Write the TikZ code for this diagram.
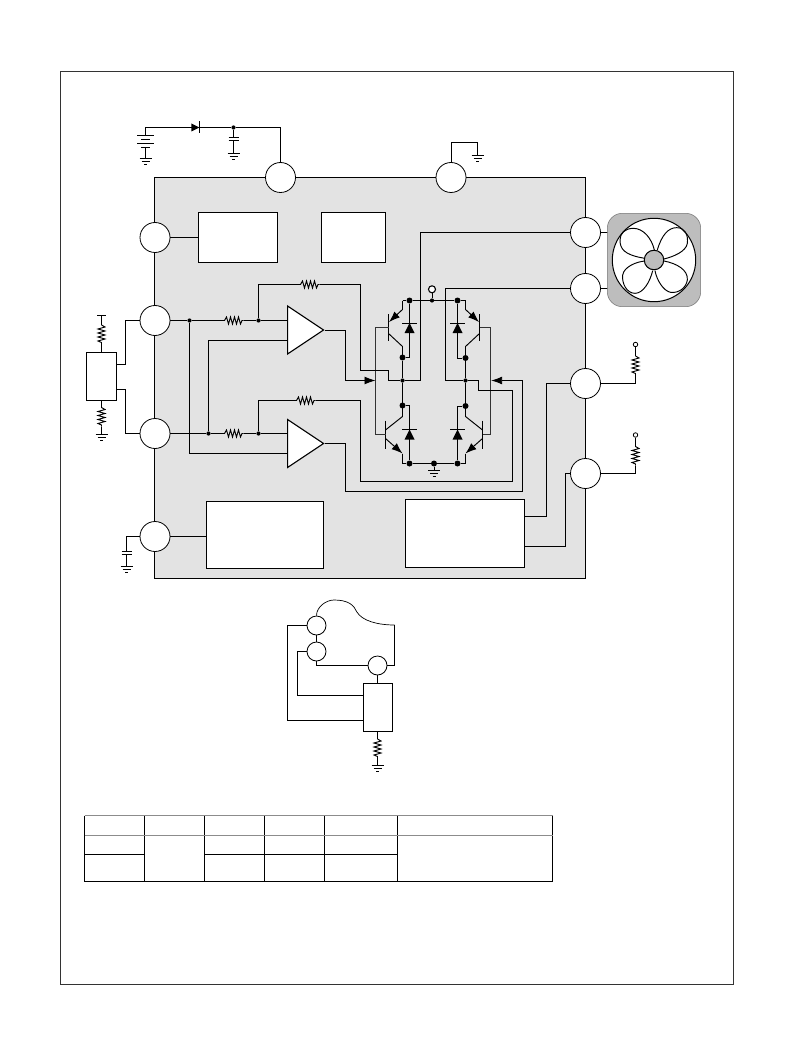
\documentclass[tikz,border=0pt]{standalone}
\usetikzlibrary{arrows.meta,shapes.geometric}
\definecolor{chipgray}{gray}{0.89}
\definecolor{fangray}{gray}{0.74}
\tikzset{
    wire/.style={line width=0.95pt},
    fatwire/.style={line width=1.7pt},
    pinc/.style={circle,draw,fill=white,line width=0.8pt,minimum size=30pt,inner sep=0pt},
    minipin/.style={pinc,minimum size=19pt},
    block/.style={rectangle,draw,fill=white,line width=0.95pt,inner sep=0pt},
    jdot/.style={circle,fill=black,minimum size=4.2pt,inner sep=0pt},
    bigdot/.style={circle,fill=black,minimum size=6pt,inner sep=0pt},
    amp/.style={isosceles triangle,isosceles triangle stretches,draw,fill=white,line width=1.1pt,
        minimum width=48pt,minimum height=36pt,inner sep=0pt,anchor=lower side},
    bigarrow/.style={-{Latex[length=11pt,width=8pt]},wire},
    emarrow/.style={-{Latex[length=11pt,width=8pt]},wire},
    pics/resis/.style={code={
        \coordinate (-w) at (-9.5,0);
        \coordinate (-e) at (9.5,0);
        \draw[wire] (-9.5,0) -- (-7.5,-3.5) -- (-5.5,3.5) -- (-3.5,-3.5) -- (-1.5,3.5)
            -- (.5,-3.5) -- (2.5,3.5) -- (4.5,-3.5) -- (6.5,3.5) -- (8,0) -- (9.5,0);
    }},
    pics/gnd/.style={code={
        \coordinate (-t) at (0,0);
        \draw[wire] (-6,0) -- (6,0) (-4,3) -- (4,3) (-1.5,6) -- (1.5,6);
    }},
    pics/capac/.style={code={
        \coordinate (-t) at (0,0);
        \coordinate (-b) at (0,3);
        \draw[wire] (-5,0) -- (5,0) (-5,3) -- (5,3);
    }},
    pics/dio/.style={code={
        \fill (0,0) -- (-5,10) -- (5,10) -- cycle;
        \draw[wire] (-7.5,0) -- (7.5,0);
    }},
    pics/qhigh/.style={code={
        \coordinate (-b) at (0,0);
        \coordinate (-c) at (14,-27);
        \coordinate (-e) at (14,30);
        \draw[line width=1.5pt] (0,-13.5) -- (0,13.5);
        \draw[wire] (14,-27) -- (14,-18);
        \draw[emarrow] (14,-18) -- (.5,-5.5);
        \draw[wire] (0,6) -- (14,19) -- (14,30);
    }},
    pics/qlow/.style={code={
        \coordinate (-b) at (0,0);
        \coordinate (-c) at (17,-29.5);
        \coordinate (-e) at (17,28.5);
        \draw[line width=1.5pt] (0,-14) -- (0,14);
        \draw[wire] (0,-4.5) -- (17,-18) -- (17,-29.5);
        \draw[emarrow] (0,4) -- (17,19);
        \draw[wire] (17,19) -- (17,28.5);
    }},
}
\begin{document}
\begin{tikzpicture}[x=1pt,y=-1pt]
    \useasboundingbox (0,0) rectangle (793,1056);
    \draw[line width=0.7pt,black!80] (60.5,71.5) rectangle (733,984);
    \draw[fill=chipgray,line width=1pt] (154.5,177.5) rectangle (585.5,578.5);

    % blocks in the chip
    \node[block,minimum width=79pt,minimum height=50pt] (reg) at (238,237.5) {};
    \node[block,minimum width=64pt,minimum height=50pt] (osc) at (353.5,237.5) {};
    \node[block,minimum width=117pt,minimum height=67pt] (prot) at (265,535) {};
    \node[block,minimum width=119pt,minimum height=68pt] (ctrl) at (465,533.5) {};

    % pins
    \coordinate (pvcc) at (280.5,177.5);
    \coordinate (pgnd) at (451,177.5);
    \coordinate (pvdd) at (155,237.5);
    \coordinate (pinp) at (155,320.5);
    \coordinate (pinn) at (155,433.5);
    \coordinate (pct) at (155,536.5);
    \coordinate (pouta) at (585.5,232.5);
    \coordinate (poutb) at (585.5,288.5);
    \coordinate (prd) at (585.5,383.5);
    \coordinate (pfg) at (585.5,473.5);

    % input side
    \node[jdot] (ja) at (189.5,320.5) {};
    \node[jdot] (jb) at (258.5,320.5) {};
    \node[jdot] (jc) at (208.5,433.5) {};
    \node[jdot] (jd) at (258.5,433.5) {};
    \pic (ra) at (234,320.5) {resis};
    \pic (rb) at (234,433.5) {resis};
    \pic (fa) at (310,284.5) {resis};
    \pic (fb) at (306,400.5) {resis};
    \node[amp] (ampa) at (287,330) {};
    \node[amp] (ampb) at (287,443.5) {};
    \draw[wire] (pinp) -- (ja) -- (ra-w) (ra-e) -- (jb) -- (ampa.lower side |- jb);
    \draw[wire] (pinn) -- (jc) -- (rb-w) (rb-e) -- (jd) -- (ampb.lower side |- jd);
    \draw[wire] (ja) -- (189.5,453.5) -- (ampb.lower side |- 0,453.5);
    \draw[wire] (jc) -- (208.5,340.5) -- (ampa.lower side |- 0,340.5);
    \draw[fatwire] (jb) |- (fa-w);
    \draw[fatwire] (jd) |- (fb-w);

    % bridge
    \node[bigdot] (ta) at (409.5,300.5) {};
    \node[jdot] (tb) at (432,300.5) {};
    \node[bigdot] (tc) at (457.5,300.5) {};
    \node[bigdot] (ma) at (402.5,357.5) {};
    \node[bigdot] (mb) at (465.5,358) {};
    \node[jdot] (ca) at (402.5,380.5) {};
    \node[jdot] (cb) at (465.5,380.5) {};
    \node[bigdot] (na) at (402.5,405.5) {};
    \node[bigdot] (nb) at (465.5,406) {};
    \node[bigdot] (ba) at (409.5,463.5) {};
    \node[bigdot] (bb) at (434,463.5) {};
    \node[bigdot] (bc) at (457.5,463.5) {};
    \node[circle,draw,fill=white,line width=1.1pt,minimum size=7pt,inner sep=0pt] (vm) at (432,289.3) {};
    \pic (qa) at (388.5,327.5) {qhigh};
    \pic[xscale=-1] (qb) at (479.5,327.5) {qhigh};
    \pic (qc) at (385.5,434.5) {qlow};
    \pic[xscale=-1] (qd) at (482.5,434.5) {qlow};
    \pic at (409.5,323) {dio};
    \pic at (457.5,323) {dio};
    \pic at (409.5,429.5) {dio};
    \pic at (457.5,429.5) {dio};
    \draw[wire] (vm) -- (tb);
    \draw[fatwire] (qa-c) -- (402.5,300.5) -- (ta) -- (tb) -- (tc) -- (465.5,300.5) -- (qb-c);
    \draw[fatwire] (qc-e) -- (402.5,463.5) -- (ba) -- (bb) -- (bc) -- (465.5,463.5) -- (qd-e);
    \draw[wire] (ta) |- (ma);
    \draw[wire] (tc) |- (mb);
    \draw[wire] (na) -| (ba);
    \draw[wire] (nb) -| (bc);
    \draw[fatwire] (qa-e) -- (ma) -- (ca) -- (na) -- (qc-c);
    \draw[fatwire] (qb-e) -- (mb) -- (cb) -- (nb) -- (qd-c);
    \draw[fatwire,black!80] (qa-b) -- (375.5,327.5) -- (375.5,434.5) -- (qc-b);
    \draw[fatwire,black!80] (qb-b) -- (490.5,327.5) -- (490.5,434.5) -- (qd-b);
    \pic (gb) at (434,470.5) {gnd};
    \draw[wire] (bb) -- (gb-t);

    % bridge drive and output wires
    \draw[wire] (fa-e) -- (360.5,284.5) -- (360.5,370.5) -- (388.5,370.5) -- (388.5,380.5) -- (ca)
        -- (420.5,380.5) -- (420.5,232.5) -- (pouta);
    \draw[wire] (fb-e) -- (360.5,400.5) -- (360.5,481.5) -- (512.5,481.5) -- (512.5,390.5)
        -- (478.5,390.5) -- (478.5,380.5) -- (cb) -- (445.5,380.5) -- (445.5,288.5) -- (poutb);
    \draw[bigarrow] (ampa.apex) -- (345.5,330) -- (345.5,380.5) -- (375.5,380.5);
    \draw[bigarrow] (ampb.apex) -- (345.5,443.5) -- (345.5,491.5) -- (522.5,491.5)
        -- (522.5,380.5) -- (491.2,380.5);
    \draw[wire] (ctrl.east |- 0,516.5) -- (546.5,516.5) -- (546.5,383.5) -- (prd);
    \draw[wire] (ctrl.east |- 0,546.5) -- (565.5,546.5) -- (565.5,473.5) -- (pfg);
    \draw[wire] (pvdd) -- (reg.west);
    \draw[wire] (pct) -- (prot.west |- pct);

    % supply, top left
    \node[jdot] (jv) at (233.5,127.5) {};
    \coordinate (batt) at (145.5,135.5);
    \pic[rotate=-90,scale=.8] (dv) at (199.3,127.5) {dio};
    \pic (cv) at (233.5,137.5) {capac};
    \pic (gv) at (233.5,153.5) {gnd};
    \pic (gs) at (145.5,158.5) {gnd};
    \draw[wire] (pvcc) -- (280.5,127.5) -- (jv) -- (batt |- jv) -- (batt);
    \draw[wire] (jv) -- (cv-t) (cv-b) -- (gv-t);
    \draw[wire] (137,135.5) -- (154,135.5) (141,139.5) -- (150,139.5)
        (137,143.5) -- (154,143.5) (141,147.5) -- (150,147.5) (145.5,147.5) -- (gs-t);

    % ground, top right
    \pic (gt) at (477.5,155.5) {gnd};
    \draw[wire] (pgnd) -- (451,142.5) -- (477.5,142.5) -- (gt-t);

    % hall element
    \node[block,minimum width=30pt,minimum height=48pt] (hall) at (101.5,376.5) {};
    \pic[rotate=-90] (rh) at (101.5,334.5) {resis};
    \pic[rotate=-90] (rl) at (101.5,417) {resis};
    \pic (gl) at (101.5,434.5) {gnd};
    \coordinate (htop) at (101.5,315.5);
    \draw[wire] (97,315.5) -- (106,315.5) (htop) -- (rh-w) (rh-e) -- (hall.north);
    \draw[wire] (hall.south) -- (rl-w) (rl-e) -- (gl-t);
    \draw[wire] (hall.east |- 0,364.5) -- (125.5,364.5) -- (125.5,320.5) -- (pinp);
    \draw[wire] (hall.east |- 0,389.5) -- (125.5,389.5) -- (125.5,433.5) -- (pinn);

    % timing capacitor
    \pic (cc) at (126.5,551) {capac};
    \pic (gc) at (126.5,566.5) {gnd};
    \draw[wire] (pct) -| (cc-t);
    \draw[wire] (cc-b) -- (gc-t);

    % pull-ups on the right
    \node[circle,draw,line width=0.8pt,minimum size=4.5pt,inner sep=0pt] (tra) at (635.5,344.5) {};
    \node[circle,draw,line width=0.8pt,minimum size=4.5pt,inner sep=0pt] (trb) at (635.5,435) {};
    \pic[rotate=-90] (pa) at (635.5,365.5) {resis};
    \pic[rotate=-90] (pb) at (635.5,456) {resis};
    \draw[wire] (prd) -| (pa-e);
    \draw[wire] (pa-w) -- (tra);
    \draw[wire] (pfg) -| (pb-e);
    \draw[wire] (pb-w) -- (trb);

    % fan
    \draw[wire] (pouta) -- (608,232.5);
    \draw[wire] (poutb) -- (608,288.5);
    \node[rectangle,rounded corners=15pt,fill=fangray,draw=black!55,line width=0.5pt,
        minimum width=93.4pt,minimum height=93.4pt,inner sep=0pt] (fanbox) at (654,260) {};
    \node[circle,draw,fill=white,line width=1pt,minimum size=83.4pt,inner sep=0pt] (fanring) at (fanbox.center) {};
    \begin{scope}[shift={(600,205)},scale=1/3]
        \draw[wire] (135,160) .. controls (70,150) and (60,130) .. (60,105)
            .. controls (60,85) and (75,70) .. (100,70) .. controls (130,70) and (155,100) .. (163,135);
        \draw[wire] (172,135) .. controls (185,90) and (205,68) .. (230,68)
            .. controls (255,68) and (265,90) .. (262,115) .. controls (258,140) and (220,155) .. (192,162);
        \draw[wire] (192,168) .. controls (230,175) and (265,195) .. (262,225)
            .. controls (258,250) and (235,265) .. (212,262) .. controls (190,258) and (170,225) .. (165,197);
        \draw[wire] (158,197) .. controls (150,230) and (130,265) .. (105,265)
            .. controls (80,265) and (65,235) .. (68,210) .. controls (72,185) and (110,170) .. (135,168);
    \end{scope}
    \node[circle,draw,fill=fangray,line width=1pt,minimum size=19.5pt,inner sep=0pt] (hub) at (fanbox.center) {};

    % pins on top of the wires
    \foreach \p in {pvcc,pgnd,pvdd,pinp,pinn,pct,pouta,poutb,prd,pfg}
        \node[pinc] at (\p) {};

    % connection example
    \node[block,minimum width=29pt,minimum height=48pt] (drv) at (378,707.5) {};
    \node[minipin] (ia) at (316.5,625.5) {};
    \node[minipin] (ib) at (316.5,651.5) {};
    \node[minipin] (ic) at (377.5,665.5) {};
    \pic[rotate=-90] (rd) at (377.5,748.5) {resis};
    \pic (gd) at (377.5,765) {gnd};
    \draw[wire] (ia) -- (ib);
    \draw[wire] (ia.west) -- (287.5,625.5) -- (287.5,720.5) -- (drv.west |- 0,720.5);
    \draw[wire] (ib.west) -- (297.5,651.5) -- (297.5,695.5) -- (drv.west |- 0,695.5);
    \draw[wire] (ib.south) |- (ic.west);
    \draw[wire] (ic.east) -- (394.5,665.5) -- (394.5,625);
    \draw[wire] (ic.south) -- (ic.south |- drv.north);
    \draw[wire] (ic.south |- drv.south) -- (rd-w) (rd-e) -- (gd-t);
    \draw[line width=0.7pt] (ia.north) .. controls (316.5,607) and (326,600) .. (334,600)
        .. controls (348,600) and (354,605) .. (356.7,611.7)
        .. controls (362,621) and (378,625) .. (394.5,625);

    % table
    \foreach \x in {84.5,144.5,204.5,264.5,324.5,397.5,552.5}
        \draw[line width=0.8pt] (\x,815.5) -- (\x,881.5);
    \draw[line width=1.2pt,black!45] (84.5,815.5) -- (552.5,815.5) (84.5,835.5) -- (552.5,835.5);
    \draw[line width=0.8pt] (84.5,854.5) -- (144.5,854.5) (204.5,854.5) -- (397.5,854.5);
    \draw[line width=0.8pt] (84.5,881.5) -- (552.5,881.5);
\end{tikzpicture}
\end{document}
